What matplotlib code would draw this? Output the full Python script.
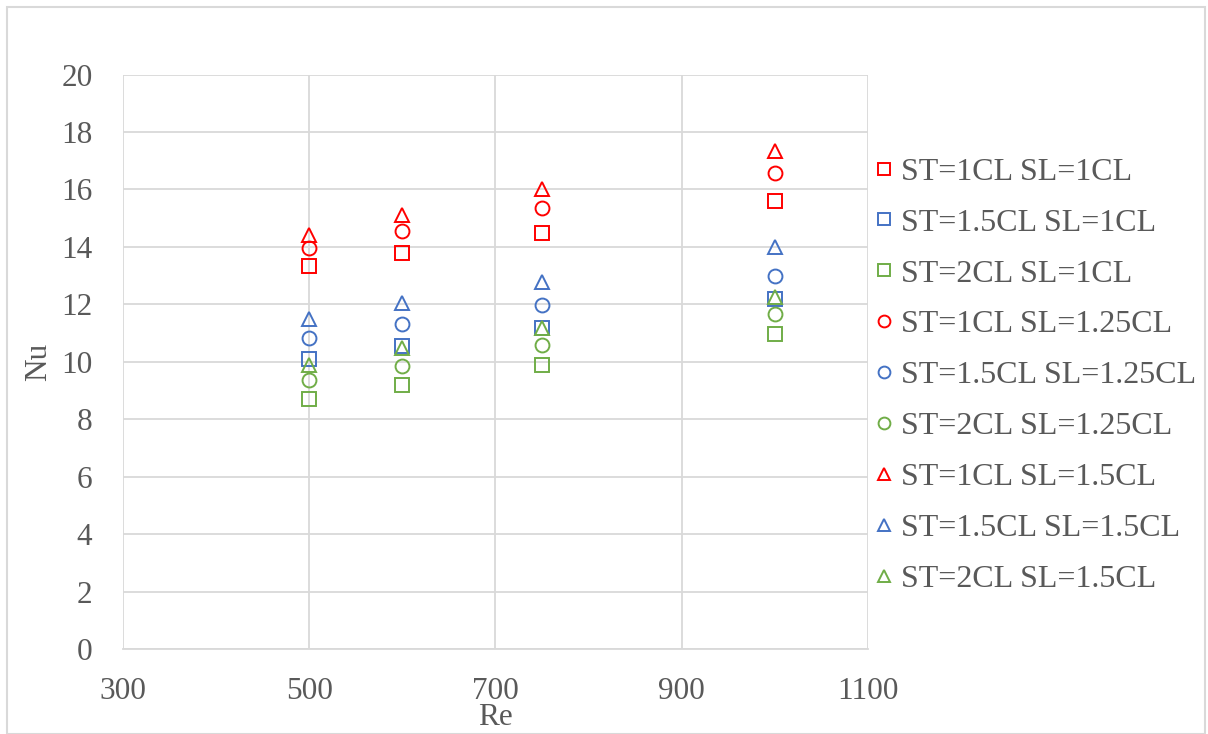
import matplotlib
matplotlib.use("Agg")
import matplotlib.pyplot as plt
from matplotlib.patches import Rectangle

plt.rcParams['font.family'] = ['Liberation Serif', 'DejaVu Serif']

re_values = [500, 600, 750, 1000]

nu_st1_sl1 = [13.32, 13.80, 14.47, 15.58]
nu_st15_sl1 = [10.09, 10.54, 11.17, 12.17]
nu_st2_sl1 = [8.70, 9.18, 9.88, 10.96]
nu_st1_sl125 = [13.95, 14.54, 15.34, 16.56]
nu_st15_sl125 = [10.82, 11.30, 11.97, 13.00]
nu_st2_sl125 = [9.36, 9.84, 10.57, 11.65]
nu_st1_sl15 = [14.40, 15.10, 16.00, 17.32]
nu_st15_sl15 = [11.50, 12.03, 12.77, 13.98]
nu_st2_sl15 = [9.90, 10.47, 11.17, 12.24]

series_labels = [
    "ST=1CL SL=1CL", "ST=1.5CL SL=1CL", "ST=2CL SL=1CL",
    "ST=1CL SL=1.25CL", "ST=1.5CL SL=1.25CL", "ST=2CL SL=1.25CL",
    "ST=1CL SL=1.5CL", "ST=1.5CL SL=1.5CL", "ST=2CL SL=1.5CL",
]
series_values = [
    nu_st1_sl1, nu_st15_sl1, nu_st2_sl1,
    nu_st1_sl125, nu_st15_sl125, nu_st2_sl125,
    nu_st1_sl15, nu_st15_sl15, nu_st2_sl15,
]

RED, BLUE, GREEN = "#FF0000", "#4472C4", "#70AD47"
colors = [RED, BLUE, GREEN] * 3
markers = ["s"] * 3 + ["o"] * 3 + ["^"] * 3

text_color = "#595959"
grid_color = "#D9D9D9"

fig = plt.figure(figsize=(12.08, 7.34), dpi=100)
fig.patches.append(Rectangle((7 / 1208, 0.0), 1 - 10 / 1208, 1 - 7 / 734,
                             transform=fig.transFigure, fill=False,
                             edgecolor=grid_color, linewidth=1.5))
ax = fig.add_axes([0.1018, 0.1158, 0.6167, 0.7827])

for vals, lab, c, m in zip(series_values, series_labels, colors, markers):
    ms = 10.5 if m == "^" else 10
    ax.plot(re_values, vals, linestyle="none", marker=m, markersize=ms,
            markerfacecolor="none", markeredgecolor=c, markeredgewidth=1.4,
            label=lab, zorder=3)

ax.set_xlim(300, 1100)
ax.set_ylim(0, 20)
ax.set_xticks([300, 500, 700, 900, 1100])
ax.set_yticks(range(0, 21, 2))
ax.grid(True, color=grid_color, linewidth=1.3)
ax.set_axisbelow(True)
for side in ["top", "right", "left"]:
    ax.spines[side].set_visible(False)
ax.spines["bottom"].set_color(grid_color)
ax.spines["bottom"].set_linewidth(1.3)
ax.tick_params(axis="both", length=0, labelsize=22.5, colors=text_color)
ax.tick_params(axis="x", pad=20)
ax.tick_params(axis="y", pad=22)

ax.set_xlabel("Re", fontsize=22.5, color=text_color, labelpad=-2)
ax.set_ylabel("Nu", fontsize=22.5, color=text_color, labelpad=6)

leg = ax.legend(loc="upper left", bbox_to_anchor=(0.993, 0.878), frameon=False,
                fontsize=23, labelcolor=text_color, handlelength=0.55,
                handletextpad=0.25, labelspacing=0.675, markerscale=0.85,
                borderaxespad=0.0)

fig.savefig("out.png", dpi=100)
